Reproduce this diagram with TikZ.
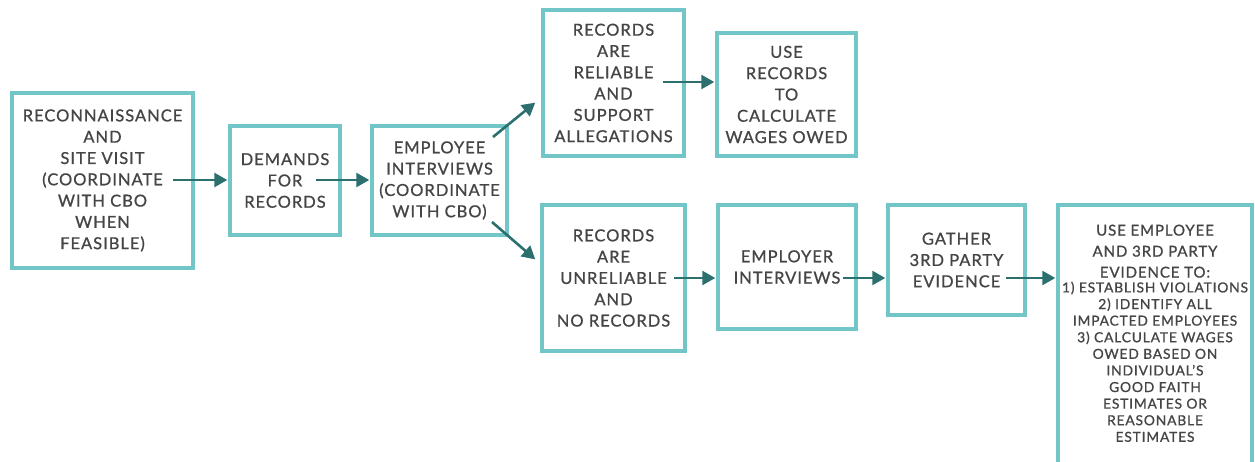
\documentclass[tikz,border=0pt]{standalone}
\usepackage{fontspec}
\setmainfont{Lato}[FakeBold=0.9,LetterSpace=6]
\usetikzlibrary{arrows.meta,calc}
\definecolor{boxc}{HTML}{73C6C8}
\definecolor{arrc}{HTML}{2B6F6F}
\definecolor{txtc}{HTML}{454545}
\begin{document}
\begin{tikzpicture}[x=1pt,y=-1pt,
  box/.style={draw=boxc,line width=3.5pt,fill=white,inner sep=0pt,align=center,
    text=txtc,font=\fontsize{16.5}{21.3}\selectfont,anchor=center},
  flow/.style={draw=arrc,line width=2.6pt,-{Triangle[length=13pt,width=14pt]},shorten >=1pt}]
\fill[white] (0,0) rectangle (1255,462);
\useasboundingbox (0,0) rectangle (1255,462);

\node[box,minimum width=181pt,minimum height=175pt] (b1) at (102.5,180.5)
  {RECONNAISSANCE\\AND\\SITE VISIT\\(COORDINATE\\WITH CBO\\WHEN\\FEASIBLE)};
\node[box,minimum width=110pt,minimum height=109pt] (b2) at (285,180.5)
  {DEMANDS\\FOR\\RECORDS};
\node[box,minimum width=135pt,minimum height=109pt] (b3) at (439.5,180.5)
  {EMPLOYEE\\INTERVIEWS\\(COORDINATE\\WITH CBO)};
\node[box,minimum width=141pt,minimum height=146pt] (b4) at (613.5,83)
  {RECORDS\\ARE\\RELIABLE\\AND\\SUPPORT\\ALLEGATIONS};
\node[box,minimum width=139pt,minimum height=123pt] (b5) at (786.5,94.5)
  {USE\\RECORDS\\TO\\CALCULATE\\WAGES OWED};
\node[box,minimum width=143pt,minimum height=146pt] (b6) at (613.5,278)
  {RECORDS\\ARE\\UNRELIABLE\\AND\\NO RECORDS};
\node[box,minimum width=138pt,minimum height=124pt] (b7) at (787,267)
  {EMPLOYER\\INTERVIEWS};
\node[box,minimum width=137pt,minimum height=110pt] (b8) at (956.5,260)
  {GATHER\\3RD PARTY\\EVIDENCE};
\node[box,minimum width=194pt,minimum height=270pt] (b9) at (1155,340) {};
\node[anchor=north,align=center,text=txtc,inner sep=0pt,
  font=\fontsize{15}{21}\selectfont] (h9) at (1155,224.5)
  {USE EMPLOYEE\\AND 3RD PARTY\\EVIDENCE TO:};
\node[anchor=north,align=center,text=txtc,inner sep=0pt,
  font=\fontsize{13.8}{16.6}\selectfont] (t9) at (1155,281.5)
  {1) ESTABLISH VIOLATIONS\\2) IDENTIFY ALL\\IMPACTED EMPLOYEES\\3) CALCULATE WAGES\\OWED BASED ON\\INDIVIDUAL’S\\GOOD FAITH\\ESTIMATES OR\\REASONABLE\\ESTIMATES};

\coordinate (s1) at (173,180);
\coordinate (s2) at (316,180);
\coordinate (s3) at (493,137);
\coordinate (e3) at (536,102);
\coordinate (s4) at (492,222);
\coordinate (e4) at (536,260);
\coordinate (s5) at (663,82);
\coordinate (s6) at (674,278);
\coordinate (s7) at (843,278);
\coordinate (s8) at (1006,278);

\draw[flow] (s1) -- (s1 -| b2.west);
\draw[flow] (s2) -- (s2 -| b3.west);
\draw[flow] (s3) -- (e3);
\draw[flow] (s4) -- (e4);
\draw[flow] (s5) -- (s5 -| b5.west);
\draw[flow] (s6) -- (s6 -| b7.west);
\draw[flow] (s7) -- (s7 -| b8.west);
\draw[flow] (s8) -- (s8 -| b9.west);
\end{tikzpicture}
\end{document}
